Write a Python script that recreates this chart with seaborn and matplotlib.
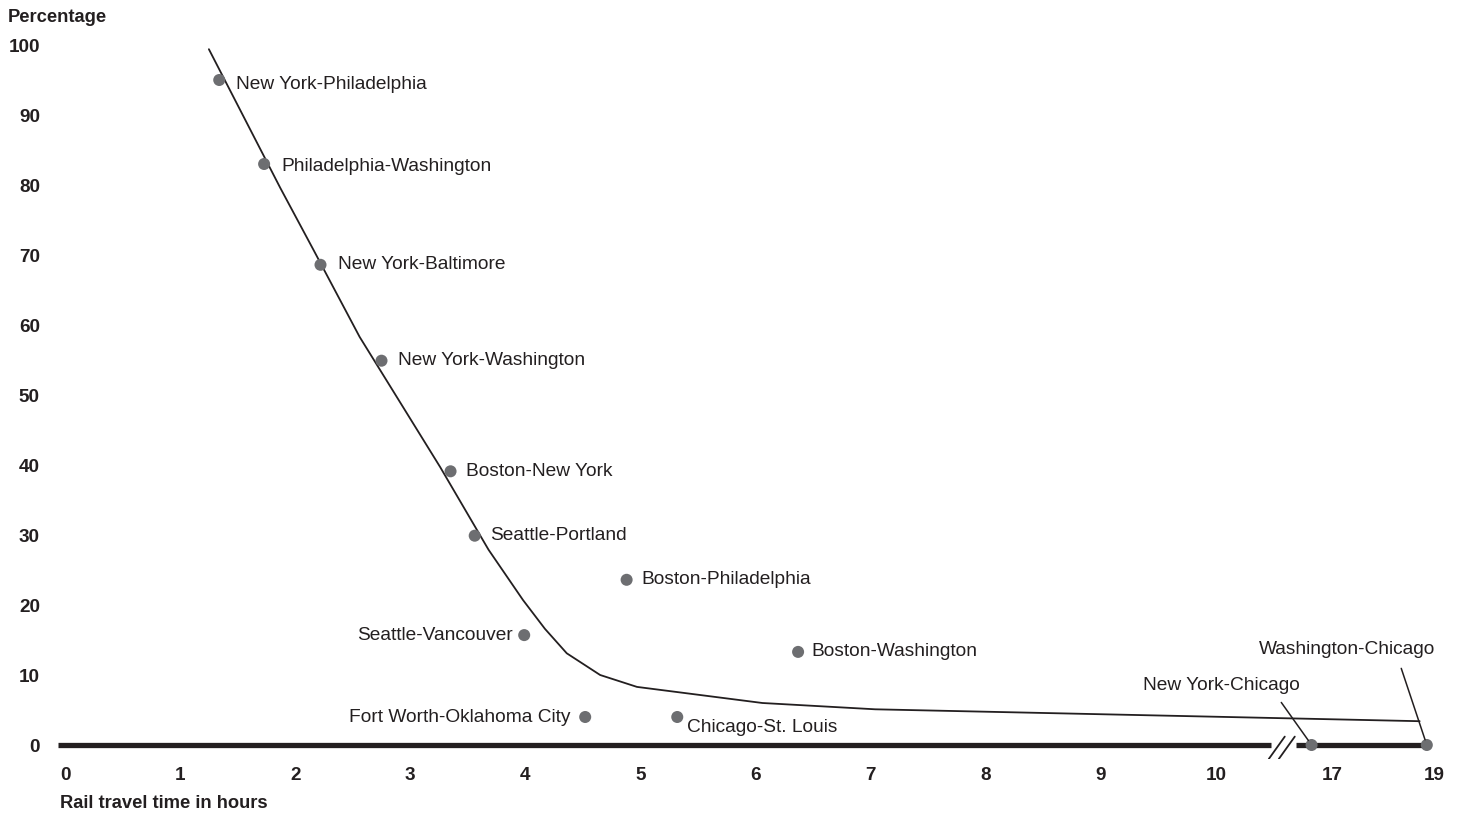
import numpy as np
import pandas as pd
import matplotlib
matplotlib.use("Agg")
import matplotlib.pyplot as plt
import seaborn as sns

sns.set_style("white")
plt.rcParams['font.family'] = ['Liberation Sans', 'DejaVu Sans']

# Data
routes = ['New York-Philadelphia', 'Philadelphia-Washington', 'New York-Baltimore',
          'New York-Washington', 'Boston-New York', 'Seattle-Portland',
          'Boston-Philadelphia', 'Seattle-Vancouver', 'Boston-Washington',
          'Fort Worth-Oklahoma City', 'Chicago-St. Louis', 'New York-Chicago',
          'Washington-Chicago']
hours = [1.34, 1.73, 2.22, 2.75, 3.35, 3.56, 4.88, 3.99, 6.37, 4.52, 5.32, 16.6, 18.85]
share = [95.0, 83.0, 68.6, 54.9, 39.1, 29.9, 23.6, 15.7, 13.3, 4.0, 4.0, 0.0, 0.0]

curve_hours = [1.25, 1.87, 2.16, 2.56, 3.26, 3.68, 3.98, 4.17, 4.36, 4.65, 4.97, 6.06, 7.04, 18.71]
curve_share = [99.4, 79.6, 70.7, 58.3, 39.7, 27.9, 20.7, 16.6, 13.1, 10.0, 8.3, 6.0, 5.1, 3.4]

x_ticks = [0, 1, 2, 3, 4, 5, 6, 7, 8, 9, 10, 17, 19]
y_ticks = [0, 10, 20, 30, 40, 50, 60, 70, 80, 90, 100]

df = pd.DataFrame({'route': routes, 'hours': hours, 'share': share})
curve = pd.DataFrame({'hours': curve_hours, 'share': curve_share})

# broken x axis: 10 -> 15 squeezed, beyond 15 at reduced scale
bp_h = [-10, 10, 15, 40]
bp_d = [-10, 10, 10.12, 10.12 + 25 * 0.445]
def fwd(x):
    return np.interp(x, bp_h, bp_d)
def inv(x):
    return np.interp(x, bp_d, bp_h)

ink = '#231f20'
dot = '#6d6e71'

fig = plt.figure(figsize=(14.63, 8.15), dpi=100)
ax = fig.add_axes([58 / 1463, 1 - 759 / 815, (1446 - 58) / 1463, (759 - 38) / 815])
ax.set_xscale('function', functions=(fwd, inv))
ax.set_xlim(inv(-0.061), inv(12.0))
ax.set_ylim(-2, 101)

# thick baseline with a break
ax.plot(inv(np.array([-0.061, 10.478])), [0, 0], color=ink, lw=3.8, solid_capstyle='butt', zorder=1)
ax.plot(inv(np.array([10.695, 11.832])), [0, 0], color=ink, lw=3.8, solid_capstyle='butt', zorder=1)
ax.plot(inv(np.array([10.460, 10.599])), [-2, 1.2], color=ink, lw=1.3, zorder=1)
ax.plot(inv(np.array([10.547, 10.686])), [-2, 1.2], color=ink, lw=1.3, zorder=1)

sns.lineplot(data=curve, x='hours', y='share', sort=False, estimator=None,
             color=ink, lw=1.3, ax=ax, zorder=2)
sns.scatterplot(data=df, x='hours', y='share', color=dot, s=75, edgecolor='none',
                ax=ax, zorder=3)

offsets = {
    'New York-Philadelphia': (17, -4, 'left'),
    'Philadelphia-Washington': (17, -2, 'left'),
    'New York-Baltimore': (17, 0, 'left'),
    'New York-Washington': (17, 0, 'left'),
    'Boston-New York': (15, 0, 'left'),
    'Seattle-Portland': (15, 0, 'left'),
    'Boston-Philadelphia': (15, 0, 'left'),
    'Seattle-Vancouver': (-11, 0, 'right'),
    'Boston-Washington': (13, 0, 'left'),
    'Fort Worth-Oklahoma City': (-15, 0, 'right'),
    'Chicago-St. Louis': (10, -11, 'left'),
}
for _, r in df.iterrows():
    if r['route'] in offsets:
        dx, dy, ha = offsets[r['route']]
        ax.annotate(r['route'], (r['hours'], r['share']), xytext=(dx, dy),
                    textcoords='offset pixels', ha=ha, va='center',
                    fontsize=13.8, color=ink)

leaders = {'New York-Chicago': (-90, 60, 0.84), 'Washington-Chicago': (-80, 95, 0.79)}
for _, r in df.iterrows():
    if r['route'] in leaders:
        dx, dy, rx = leaders[r['route']]
        ax.annotate(r['route'], (r['hours'], r['share']), xytext=(dx, dy),
                    textcoords='offset pixels', ha='center', va='center',
                    fontsize=13.8, color=ink,
                    arrowprops=dict(arrowstyle='-', color=ink, lw=1.1,
                                    relpos=(rx, 0), shrinkA=5, shrinkB=4))

ax.set_xticks(x_ticks)
ax.set_xticklabels([str(t) for t in x_ticks])
ax.set_yticks(y_ticks)
ax.set_yticklabels([str(t) for t in y_ticks])
ax.tick_params(axis='x', length=0, pad=6, labelsize=13.6, labelcolor=ink)
ax.tick_params(axis='y', length=0, pad=13, labelsize=13.6, labelcolor=ink)
for lab in ax.get_xticklabels() + ax.get_yticklabels():
    lab.set_fontweight('bold')
ax.xaxis.set_minor_locator(plt.NullLocator())
ax.set_xlabel('')
ax.set_ylabel('')
for s in ax.spines.values():
    s.set_visible(False)
ax.grid(False)

fig.text(8 / 1463, 1 - 17 / 815, 'Percentage', fontsize=13.2, fontweight='bold',
         color=ink, ha='left', va='center')
fig.text(60 / 1463, 1 - 803 / 815, 'Rail travel time in hours', fontsize=13.2,
         fontweight='bold', color=ink, ha='left', va='center')

fig.savefig('out.png', dpi=100)
